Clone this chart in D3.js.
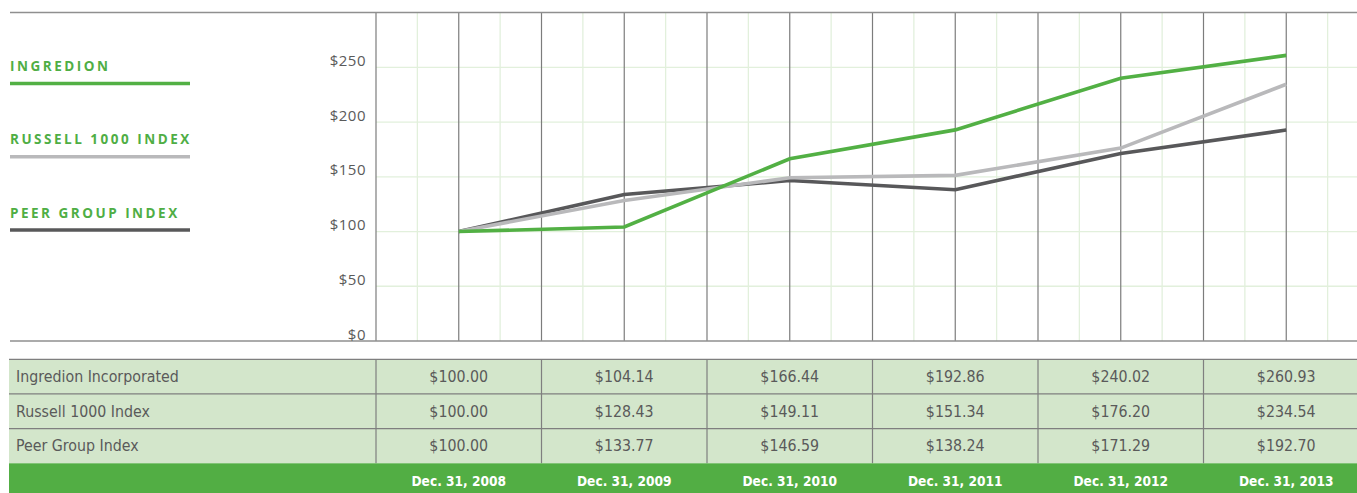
<!DOCTYPE html>
<html>
<head>
<meta charset="utf-8">
<script src="https://cdn.jsdelivr.net/npm/d3@7"></script>
<style>
  body { margin: 0; background: #fff; }
  svg { display: block; }
  .ylab { font-family: "Open Sans", sans-serif; font-size: 15px; fill: #5a5a5a; letter-spacing: 0.5px; }
  .leg { font-family: "Open Sans", sans-serif; font-weight: 700; font-size: 13.5px; fill: #4fae45; letter-spacing: 2.5px; }
  .cell { font-family: "Liberation Sans Narrow", "DejaVu Sans Condensed", sans-serif; font-size: 15.8px; fill: #5a5a5a; }
  .foot { font-family: "Liberation Sans Narrow", "DejaVu Sans Condensed", sans-serif; font-size: 13.6px; font-weight: 700; fill: #fff; }
</style>
</head>
<body>
<svg id="chart" width="1357" height="493"></svg>
<script>
var years = ["Dec. 31, 2008", "Dec. 31, 2009", "Dec. 31, 2010", "Dec. 31, 2011", "Dec. 31, 2012", "Dec. 31, 2013"];
var seriesNames = ["Ingredion Incorporated", "Russell 1000 Index", "Peer Group Index"];
var legendNames = ["INGREDION", "RUSSELL 1000 INDEX", "PEER GROUP INDEX"];
var ingredion = [100.00, 104.14, 166.44, 192.86, 240.02, 260.93];
var russell = [100.00, 128.43, 149.11, 151.34, 176.20, 234.54];
var peer = [100.00, 133.77, 146.59, 138.24, 171.29, 192.70];
var yTicks = [0, 50, 100, 150, 200, 250];
var colors = ["#52b044", "#b9b9bb", "#58585a"];

var allValues = [ingredion, russell, peer];

document.addEventListener("DOMContentLoaded", function () {
  draw();

  function draw() {
    var svg = d3.select("#chart");

    var x = d3.scaleBand().domain(years).range([376, 1369]).padding(0);
    var bw = x.bandwidth();
    var y = d3.scaleLinear().domain([0, 300]).range([341, 12.6]);

    // vertical grid: column edges and centres dark, quarter points light
    var vlines = [];
    years.forEach(function (yr) {
      for (var k = 0; k < 4; k++) {
        vlines.push({ x: x(yr) + k * bw / 4, dark: k % 2 === 0 });
      }
    });

    // horizontal light grid
    svg.append("g").selectAll("line")
      .data(yTicks.slice(1))
      .enter().append("line")
      .attr("x1", 376).attr("x2", 1357)
      .attr("y1", function (d) { return y(d); })
      .attr("y2", function (d) { return y(d); })
      .attr("stroke", "#e2f0dc").attr("stroke-width", 1.3);

    svg.append("g").selectAll("line")
      .data(vlines.filter(function (d) { return !d.dark; }))
      .enter().append("line")
      .attr("x1", function (d) { return d.x; })
      .attr("x2", function (d) { return d.x; })
      .attr("y1", y(300)).attr("y2", y(0))
      .attr("stroke", "#e2f0dc").attr("stroke-width", 1.3);

    svg.append("g").selectAll("line")
      .data(vlines.filter(function (d) { return d.dark; }))
      .enter().append("line")
      .attr("x1", function (d) { return d.x; })
      .attr("x2", function (d) { return d.x; })
      .attr("y1", y(300)).attr("y2", y(0))
      .attr("stroke", "#7c7c7c").attr("stroke-width", 1.2);

    // top and bottom rules
    svg.append("line").attr("x1", 10).attr("x2", 1357)
      .attr("y1", y(300)).attr("y2", y(300))
      .attr("stroke", "#8f8f8f").attr("stroke-width", 1.5);
    svg.append("line").attr("x1", 10).attr("x2", 1357)
      .attr("y1", y(0)).attr("y2", y(0))
      .attr("stroke", "#8f8f8f").attr("stroke-width", 1.5);

    // y labels
    svg.append("g").selectAll("text")
      .data(yTicks)
      .enter().append("text")
      .attr("class", "ylab")
      .attr("x", 366)
      .attr("y", function (d) { return y(d) - 1.5; })
      .attr("text-anchor", "end")
      .text(function (d) { return "$" + d; });

    // lines, drawn so that Ingredion sits on top
    var line = d3.line()
      .x(function (d, i) { return x(years[i]) + bw / 2; })
      .y(function (d) { return y(d); });

    [2, 1, 0].forEach(function (s) {
      svg.append("path")
        .datum(allValues[s])
        .attr("d", line)
        .attr("fill", "none")
        .attr("stroke", colors[s])
        .attr("stroke-width", 3.6)
        .attr("stroke-linejoin", "miter");
    });

    // legend
    var legY = d3.scalePoint().domain(legendNames).range([83.5, 230]);
    legendNames.forEach(function (name, i) {
      svg.append("text").attr("class", "leg")
        .attr("x", 10).attr("y", legY(name) - 12.5)
        .text(name);
      svg.append("line")
        .attr("x1", 10).attr("x2", 190)
        .attr("y1", legY(name)).attr("y2", legY(name))
        .attr("stroke", colors[i]).attr("stroke-width", 3.5);
    });

    // table
    var rowY = d3.scaleBand().domain(seriesNames).range([359.3, 463.3]);
    var rh = rowY.bandwidth();

    svg.append("rect")
      .attr("x", 9).attr("y", rowY.range()[0])
      .attr("width", 1357 - 9).attr("height", rh * 3)
      .attr("fill", "#d3e6cb");

    // horizontal rules
    svg.append("g").selectAll("line")
      .data(seriesNames)
      .enter().append("line")
      .attr("x1", 9).attr("x2", 1357)
      .attr("y1", function (d) { return rowY(d); })
      .attr("y2", function (d) { return rowY(d); })
      .attr("stroke", "#7f7f7f").attr("stroke-width", 1.2);

    // vertical cell borders
    svg.append("g").selectAll("line")
      .data(years)
      .enter().append("line")
      .attr("x1", function (d) { return x(d); })
      .attr("x2", function (d) { return x(d); })
      .attr("y1", rowY.range()[0]).attr("y2", rowY.range()[1])
      .attr("stroke", "#7f7f7f").attr("stroke-width", 1.2);

    seriesNames.forEach(function (name, s) {
      svg.append("text").attr("class", "cell")
        .attr("x", 16).attr("y", rowY(name) + rh / 2 + 5.5)
        .text(name);
      svg.append("g").selectAll("text")
        .data(allValues[s])
        .enter().append("text")
        .attr("class", "cell")
        .attr("text-anchor", "middle")
        .attr("x", function (d, i) { return x(years[i]) + bw / 2; })
        .attr("y", rowY(name) + rh / 2 + 5.5)
        .text(function (d) { return "$" + d.toFixed(2); });
    });

    // footer band
    svg.append("rect")
      .attr("x", 9).attr("y", rowY.range()[1])
      .attr("width", 1357 - 9).attr("height", 493 - rowY.range()[1])
      .attr("fill", "#52ae44");

    svg.append("g").selectAll("text")
      .data(years)
      .enter().append("text")
      .attr("class", "foot")
      .attr("text-anchor", "middle")
      .attr("x", function (d) { return x(d) + bw / 2; })
      .attr("y", 486)
      .text(function (d) { return d; });
  }
});
</script>
</body>
</html>
